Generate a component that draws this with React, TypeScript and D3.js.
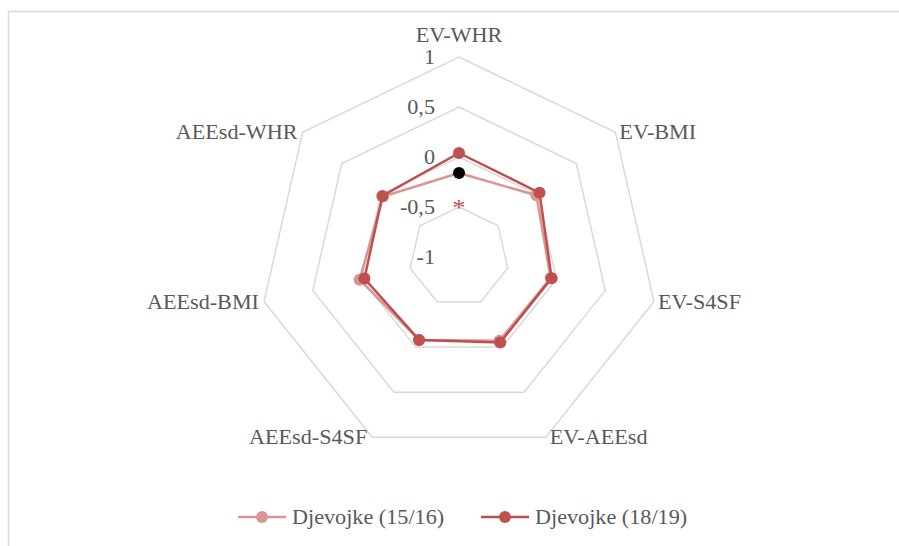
import React from "react";
import * as d3 from "d3";

const categories = ["EV-WHR", "EV-BMI", "EV-S4SF", "EV-AEEsd", "AEEsd-S4SF", "AEEsd-BMI", "AEEsd-WHR"];
const seriesNames = ["Djevojke (15/16)", "Djevojke (18/19)"];
const values1516 = [-0.16, -0.01, -0.06, -0.07, -0.08, 0.02, -0.03];
const values1819 = [0.04, 0.03, -0.05, -0.05, -0.08, -0.03, -0.02];
const ticks = [-1, -0.5, 0, 0.5, 1];
const tickLabels = ["-1", "-0,5", "0", "0,5", "1"];

const W = 899;
const H = 546;
const cx = 459;
const cy = 257;
const R = 200;
const colors = ["#D99694", "#C0504D"];
const textColor = "#595959";
const font = "Liberation Serif";
const SX = 1.11;

function T(props: { x: number; y: number; anchor?: string; size?: number; fill?: string; children: React.ReactNode }) {
  const { x, y, anchor = "start", size = 20, fill = textColor, children } = props;
  return (
    <g transform={`translate(${x},${y}) scale(${SX},1)`}>
      <text x={0} y={0} textAnchor={anchor} fontFamily={font} fontSize={size} fill={fill}>
        {children}
      </text>
    </g>
  );
}

export default function App() {
  const r = d3.scaleLinear().domain([-1, 1]).range([0, R]);
  const n = categories.length;
  const angle = (i: number) => (i * 2 * Math.PI) / n;
  const pt = (i: number, v: number): [number, number] => [
    cx + r(v) * Math.sin(angle(i)),
    cy - r(v) * Math.cos(angle(i)),
  ];
  const line = d3.line<[number, number]>().curve(d3.curveLinearClosed);
  const series = [values1516, values1819];

  return (
    <svg width={W} height={H} style={{ position: "absolute", left: 0, top: 0 }}>
      <rect x={8.5} y={11.5} width={1000} height={1000} fill="white" stroke="#D9D9D9" strokeWidth={1.5} />
      {ticks.filter((t) => t > -1).map((t) => (
        <path
          key={t}
          d={line(categories.map((_, i) => pt(i, t))) || ""}
          fill="none"
          stroke="#D9D9D9"
          strokeWidth={1.5}
        />
      ))}
      {ticks.map((t, k) => (
        <T key={"tl" + t} x={435} y={cy - r(t) + 7} anchor="end">
          {tickLabels[k]}
        </T>
      ))}
      {categories.map((c, i) => {
        const [x, y] = pt(i, 1);
        const s = Math.sin(angle(i));
        let anchor = "middle";
        let dx = 0;
        let dy = 7;
        if (i === 0) {
          dy = -15;
        } else if (s > 0.01) {
          anchor = "start";
          dx = 4;
        } else if (s < -0.01) {
          anchor = "end";
          dx = -5;
        }
        return (
          <T key={c} x={x + dx} y={y + dy} anchor={anchor}>
            {c}
          </T>
        );
      })}
      {series.map((vals, si) => (
        <g key={si}>
          <path
            d={line(vals.map((v, i) => pt(i, v))) || ""}
            fill="none"
            stroke={colors[si]}
            strokeWidth={2.5}
            strokeLinejoin="round"
          />
          {vals.map((v, i) => {
            const [x, y] = pt(i, v);
            const black = si === 0 && i === 0;
            return <circle key={i} cx={x} cy={y} r={6} fill={black ? "#000" : colors[si]} />;
          })}
        </g>
      ))}
      <T x={cx} y={215} anchor="middle" size={24} fill="#C0504D">
        *
      </T>
      {seriesNames.map((name, si) => {
        const x0 = si === 0 ? 238 : 481;
        const ly = 517;
        return (
          <g key={name}>
            <line x1={x0} x2={x0 + 48} y1={ly} y2={ly} stroke={colors[si]} strokeWidth={2.5} />
            <circle cx={x0 + 24} cy={ly} r={6} fill={colors[si]} />
            <T x={x0 + 54} y={ly + 7}>
              {name}
            </T>
          </g>
        );
      })}
    </svg>
  );
}
